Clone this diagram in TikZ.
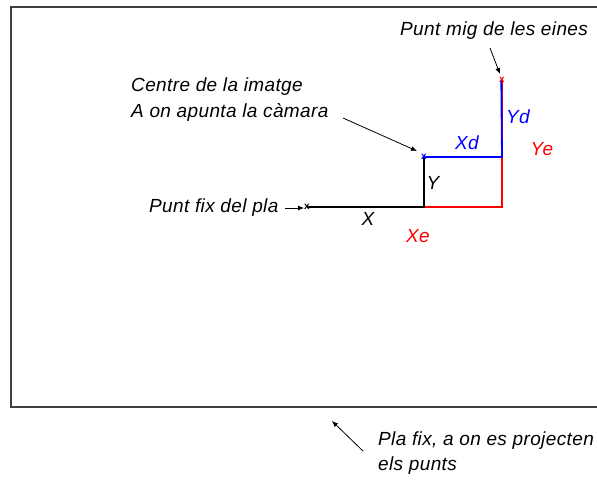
\documentclass[tikz,border=0pt]{standalone}
\usepackage{fontspec}
\setmainfont{Liberation Sans}[LetterSpace=2]
\usetikzlibrary{arrows.meta}
\begin{document}
\begin{tikzpicture}[x=1pt,y=-1pt,
  lbl/.style={font=\fontsize{19}{22}\selectfont\itshape, inner sep=0pt},
  arr/.style={-{Latex[length=6pt,width=5pt]}, line width=0.8pt, black},
  cross/.style={font=\fontsize{10}{10}\selectfont\bfseries, inner sep=0pt},
  seg/.style={line width=1.8pt}]
\useasboundingbox (0,0) rectangle (597,480);
\fill[white] (0,0) rectangle (597,480);
\begin{scope}
\clip (0,0) rectangle (597,480);
\draw[line width=2pt, black!75] (11,7) rectangle (640,407);
% key points
\coordinate (F) at (307,207);
\coordinate (B) at (424,207);
\coordinate (C) at (424,157);
\coordinate (M) at (502,157);
\coordinate (R) at (502,207);
\coordinate (T) at (502,80);
% segments
\draw[seg, red] (B) -- (R) -- (T);
\draw[seg, black] (F) -- (B) -- (C);
\draw[seg, blue] (C) -- (M) -- ([xshift=-0.7pt]T);
% markers
\node[cross, black] (fm) at (F) {x};
\node[cross, blue] (cm) at (C) {x};
\node[cross, red] (tm) at (T) {x};
% segment labels
\node[lbl] (lx) at (368,219) {X};
\node[lbl] (ly) at (433,183) {Y};
\node[lbl, blue] (lxd) at (467,143) {Xd};
\node[lbl, blue] (lyd) at (518,117) {Yd};
\node[lbl, red] (lye) at (542,149) {Ye};
\node[lbl, red] (lxe) at (418,236) {Xe};
% descriptions
\node[lbl, anchor=west] (pmig) at (400,31) {Punt mig de les eines};
\node[lbl, anchor=west] (cen1) at (131,87) {Centre de la imatge};
\node[lbl, anchor=west] (cen2) at (131,112) {A on apunta la càmara};
\node[lbl, anchor=west] (pfix) at (149,208) {Punt fix del pla};
\node[lbl, anchor=west] (pla1) at (378,441) {Pla fix, a on es projecten};
\node[lbl, anchor=west] (pla2) at (378,466) {els punts};
% arrows
\coordinate (a1) at (490,48);
\coordinate (a1e) at (500,74);
\draw[arr] (a1) -- (a1e);
\coordinate (a2) at (343,118);
\coordinate (a2e) at (417,151);
\draw[arr] (a2) -- (a2e);
\coordinate (a3) at (285,208);
\coordinate (a3e) at (304,208);
\draw[arr] (a3) -- (a3e);
\coordinate (a4) at (363,451);
\coordinate (a4e) at (332,421);
\draw[arr] (a4) -- (a4e);
\end{scope}
\end{tikzpicture}
\end{document}
